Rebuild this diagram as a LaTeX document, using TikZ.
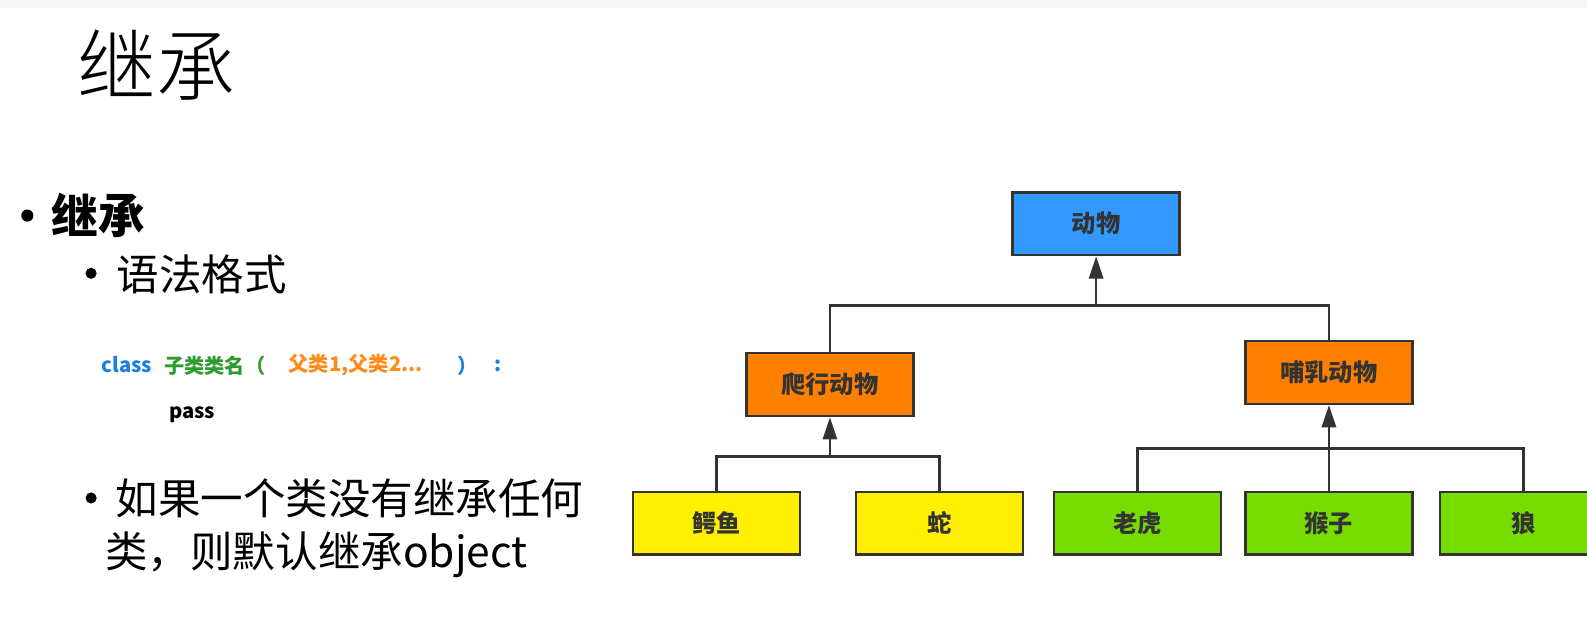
\documentclass[tikz,border=0pt]{standalone}
\usepackage{fontspec}
\setmainfont{Noto Sans CJK SC}
\newfontfamily\lightfont{Noto Sans CJK SC Light}
\usetikzlibrary{arrows.meta}
\definecolor{boxblue}{HTML}{3399FF}
\definecolor{boxorange}{HTML}{FF8000}
\definecolor{boxyellow}{HTML}{FFF000}
\definecolor{boxgreen}{HTML}{77DD00}
\definecolor{linegray}{HTML}{333333}
\definecolor{textgray}{HTML}{333333}
\definecolor{kwblue}{HTML}{1A7FE0}
\definecolor{kwgreen}{HTML}{2E9B2E}
\definecolor{kworange}{HTML}{FF8C1A}
\begin{document}
\begin{tikzpicture}[x=1pt,y=-1pt,
  box/.style={draw=linegray, line width=2.4pt, minimum width=165pt, minimum height=62pt,
    font=\fontsize{24}{24}\selectfont\bfseries, text=textgray, inner sep=0pt},
  conn/.style={draw=linegray, line width=2.6pt},
  arr/.style={conn, -{Triangle[width=14pt,length=22pt]}},
  txt/.style={anchor=west, inner sep=0pt, text=black},
  dot/.style={circle, fill=black, inner sep=0pt, minimum size=#1},
  big/.style={txt, font=\fontsize{42}{42}\selectfont},
  code/.style={txt, font=\fontsize{20}{20}\selectfont\bfseries}]
\useasboundingbox (0,0) rectangle (1568,624.4);
\clip (0,0) rectangle (1568,624.4);
\fill[gray!6] (0,0) rectangle (1568,8);
% title and text
\node[txt, font=\fontsize{78}{78}\selectfont\lightfont] (title) at (76,64) {继承};
\node[dot=12pt] (b1) at (27,213) {};
\node[txt, font=\fontsize{46}{46}\selectfont\bfseries] (t1) at (51,213) {继承};
\node[dot=11pt] (b2) at (90,270) {};
\node[big] (t2) at (115,271) {语法格式};
\node[code, text=kwblue] (c1) at (100,360) {class};
\node[code, text=kwgreen] (c2) at (162,361) {子类类名（};
\node[code, text=kworange] (c3) at (285,361) {父类1,父类2...};
\node[code, text=kwblue] (c4) at (452,361) {）};
\node[code, text=kwblue] (c5) at (488,361) {:};
\node[code] (c6) at (167,410) {pass};
\node[dot=11pt] (b3) at (90,492) {};
\node[big] (t3) at (114,492) {如果一个类没有继承任何};
\node[big] (t4) at (104,548) {类，则默认继承object};
% diagram
\node[box, fill=boxblue] (animal) at (1083,221) {动物};
\node[box, fill=boxorange] (rept) at (820,380) {爬行动物};
\node[box, fill=boxorange] (mamm) at (1313,368) {哺乳动物};
\node[box, fill=boxyellow] (croc) at (708,517) {鳄鱼};
\node[box, fill=boxyellow] (snake) at (928,517) {蛇};
\node[box, fill=boxgreen] (tiger) at (1124,517) {老虎};
\node[box, fill=boxgreen] (monkey) at (1313,517) {猴子};
\node[box, fill=boxgreen] (wolf) at (1505,517) {狼};
\coordinate (j1) at (1083,302);
\coordinate (j2) at (820,451);
\coordinate (j3) at (1313,443);
\draw[conn] (rept.north) |- (j1) -| (mamm.north);
\draw[arr] (j1) -- (animal.south);
\draw[conn] (croc.north) |- (j2) -| (snake.north);
\draw[arr] (j2) -- (rept.south);
\draw[conn] (tiger.north) |- (j3) -| (wolf.north);
\draw[arr] (monkey.north) -- (mamm.south);
\end{tikzpicture}
\end{document}
